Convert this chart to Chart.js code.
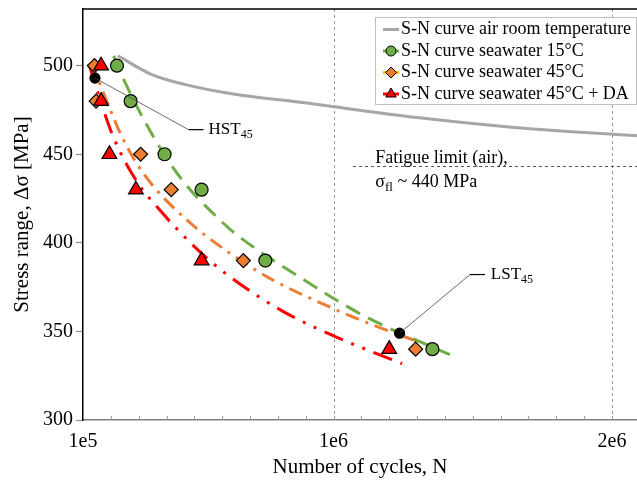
<!DOCTYPE html>
<html><head><meta charset="utf-8">
<script src="https://cdn.jsdelivr.net/npm/chart.js@4/dist/chart.umd.min.js"></script>
<style>html,body{margin:0;padding:0;background:#fff}</style>
</head><body>
<canvas id="c" width="637" height="482"></canvas>
<script>
// ---- tick labels ----
const xTickValues = [1e5, 1e6, 2e6];
const xTickLabels = ['1e5', '1e6', '2e6'];
const yTickValues = [300, 350, 400, 450, 500];

// ---- S-N curve in air (room temperature) ----
const airN = [2.25e5, 3.43e5, 4.61e5, 6.40e5, 8.81e5, 1.30e6, 1.66e6, 2.09e6];
const airS = [505.6, 495.3, 489.6, 484.0, 479.3, 470.7, 465.0, 460.5];

// ---- experimental points ----
const sw15N = [2.22e5, 2.71e5, 3.93e5, 5.26e5, 7.55e5, 1.355e6];
const sw15S = [500, 480, 450, 430, 390, 340];
const sw45N = [1.41e5, 1.47e5, 3.07e5, 4.17e5, 6.76e5, 1.295e6];
const sw45S = [500, 480, 450, 430, 390, 340];
const sw45daN = [1.65e5, 1.65e5, 1.95e5, 2.90e5, 5.26e5, 1.20e6];
const sw45daS = [500, 480, 450, 430, 390, 340];

// ---- fitted curves ----
const fit15N = [2.10e5, 2.43e5, 3.57e5, 4.58e5, 5.65e5, 6.47e5, 8.81e5, 1.095e6, 1.203e6, 1.418e6];
const fit15S = [505.5, 493.2, 458.8, 435.1, 417.0, 405.2, 380.4, 360.0, 351.6, 336.9];
const fit45N = [1.31e5, 1.89e5, 2.43e5, 3.25e5, 4.76e5, 6.30e5, 7.66e5, 9.99e5, 1.157e6, 1.304e6];
const fit45S = [501.7, 478.6, 458.8, 437.5, 412.5, 393.9, 380.4, 362.9, 352.7, 344.2];
const fit45daN = [1.21e5, 1.42e5, 2.07e5, 2.96e5, 3.68e5, 5.04e5, 6.22e5, 8.20e5, 1.006e6, 1.246e6];
const fit45daS = [501.1, 490.4, 460.5, 434.0, 419.9, 397.3, 381.5, 361.2, 347.1, 331.8];

// ---- highlighted specimens ----
const specLabels = ['HST', 'LST'];
const specN = [1.43e5, 1.237e6];
const specS = [493, 349];

// ---- fatigue limit ----
const fatigueLimitS = 443.5;
const fatigueLineStartN = 1.07e6;

const legendLabels = ['S-N curve air room temperature', 'S-N curve seawater 15°C', 'S-N curve seawater 45°C', 'S-N curve seawater 45°C + DA'];

const FONT = "'Liberation Serif','Times New Roman',serif";
const GREEN = '#70AD47', ORANGE = '#ED7D31', RED = '#FF0000', GRAY = '#A6A6A6';

const pts = (xs, ys) => xs.map((x, i) => ({x, y: ys[i]}));

const curve = (xs, ys, color, dash, w) => ({
  data: pts(xs, ys), borderColor: color, borderWidth: w, borderDash: dash,
  pointRadius: 0, pointHoverRadius: 0, fill: false, cubicInterpolationMode: 'monotone', borderCapStyle: 'butt'
});
const marks = (xs, ys, color, style, r) => ({
  data: pts(xs, ys), showLine: false, pointStyle: style, pointRadius: r, pointHoverRadius: r,
  pointBackgroundColor: color, pointBorderColor: '#000', pointBorderWidth: 1.2, borderColor: color, backgroundColor: color
});

const decor = {
  id: 'decor',
  beforeDatasetsDraw(chart) {
    const {ctx, chartArea: a, scales: {x, y}} = chart;
    ctx.save();
    ctx.strokeStyle = '#9a9a9a'; ctx.lineWidth = 1; ctx.setLineDash([3, 3]);
    [1e6, 2e6].forEach(v => {
      const px = Math.round(x.getPixelForValue(v)) + 0.5;
      ctx.beginPath(); ctx.moveTo(px, a.top); ctx.lineTo(px, a.bottom); ctx.stroke();
    });
    ctx.strokeStyle = '#555';
    const fy = Math.round(y.getPixelForValue(fatigueLimitS)) + 0.5;
    ctx.beginPath(); ctx.moveTo(x.getPixelForValue(fatigueLineStartN), fy); ctx.lineTo(a.right, fy); ctx.stroke();
    ctx.setLineDash([]);
    ctx.strokeStyle = '#9a9a9a';
    for (let v = 2e5; v <= 2.05e6; v += 1e5) {
      const px = Math.round(x.getPixelForValue(v)) + 0.5;
      ctx.beginPath(); ctx.moveTo(px, a.bottom); ctx.lineTo(px, a.bottom - 4); ctx.stroke();
    }
    ctx.strokeStyle = '#000'; ctx.lineWidth = 1.5;
    ctx.beginPath(); ctx.moveTo(a.left, a.top); ctx.lineTo(a.right, a.top); ctx.stroke();
    ctx.restore();
  },
  afterDatasetsDraw(chart) {
    const {ctx, scales: {x, y}} = chart;
    ctx.save();
    ctx.fillStyle = '#000';
    ctx.textBaseline = 'middle';
    const sub = (main, subTxt, px, py, size) => {
      ctx.font = size + 'px ' + FONT;
      ctx.fillText(main, px, py);
      const w = ctx.measureText(main).width;
      ctx.font = Math.round(size * 0.7) + 'px ' + FONT;
      ctx.fillText(subTxt, px + w, py + 5);
      return px + w + ctx.measureText(subTxt).width;
    };
    const leaders = [
      {n: specN[0], s: specS[0], kn: 4.79e5, ks: 463.9, en: 5.33e5, tn: 5.51e5, label: specLabels[0]},
      {n: specN[1], s: specS[1], kn: 1.49e6, ks: 382.1, en: 1.544e6, tn: 1.565e6, label: specLabels[1]}
    ];
    leaders.forEach(l => {
      const ky = y.getPixelForValue(l.ks);
      ctx.lineWidth = 0.8; ctx.strokeStyle = '#444';
      ctx.beginPath();
      ctx.moveTo(x.getPixelForValue(l.n), y.getPixelForValue(l.s));
      ctx.lineTo(x.getPixelForValue(l.kn), ky);
      ctx.stroke();
      ctx.lineWidth = 1.2; ctx.strokeStyle = '#000';
      ctx.beginPath(); ctx.moveTo(x.getPixelForValue(l.kn), ky); ctx.lineTo(x.getPixelForValue(l.en), ky); ctx.stroke();
      ctx.textAlign = 'left';
      sub(l.label, '45', x.getPixelForValue(l.tn), ky, 17);
    });
    const tx = x.getPixelForValue(1.15e6);
    ctx.font = '18px ' + FONT;
    ctx.fillText('Fatigue limit (air),', tx, y.getPixelForValue(447.5));
    const ty = y.getPixelForValue(434);
    const e = sub('σ', 'fl', tx, ty, 18);
    ctx.font = '18px ' + FONT;
    ctx.fillText(' ~ 440 MPa', e, ty);

    const L = 375.5, T = 17.5, R = 636.5, B = 104.5;
    ctx.fillStyle = '#fff'; ctx.fillRect(L, T, R - L, B - T);
    ctx.strokeStyle = '#BFBFBF'; ctx.lineWidth = 1; ctx.strokeRect(L, T, R - L, B - T);
    const rows = [29.5, 51, 72.5, 94];
    const lineCols = [GRAY, GREEN, '#FFC000', RED];
    const mk = [null, {s: 'circle', r: 5, c: GREEN}, {s: 'rectRot', r: 5.5, c: ORANGE}, {s: 'triangle', r: 6, c: RED}];
    rows.forEach((ry, i) => {
      ctx.strokeStyle = lineCols[i]; ctx.lineWidth = 3;
      ctx.beginPath(); ctx.moveTo(383, ry); ctx.lineTo(399, ry); ctx.stroke();
      if (mk[i]) {
        ctx.fillStyle = mk[i].c; ctx.strokeStyle = '#000'; ctx.lineWidth = 1;
        Chart.helpers.drawPoint(ctx, {pointStyle: mk[i].s, radius: mk[i].r, rotation: 0, borderWidth: 1}, 391, ry);
      }
      ctx.fillStyle = '#000'; ctx.font = '18px ' + FONT; ctx.textAlign = 'left';
      ctx.fillText(legendLabels[i], 401, ry);
    });
    ctx.restore();
  }
};

new Chart(document.getElementById('c'), {
  type: 'line',
  data: {
    datasets: [
      // first dataset is drawn on top
      marks(specN, specS, '#000', 'circle', 5),
      marks(sw45daN, sw45daS, RED, 'triangle', 8.5),
      marks(sw45N, sw45S, ORANGE, 'rectRot', 7),
      marks(sw15N, sw15S, GREEN, 'circle', 6.5),
      curve(fit15N, fit15S, GREEN, [16, 9], 3),
      curve(fit45N, fit45S, ORANGE, [14, 7, 3, 7], 3),
      curve(fit45daN, fit45daS, RED, [20, 9, 3, 9, 3, 9], 3),
      curve(airN, airS, GRAY, [], 3)
    ]
  },
  options: {
    responsive: false, animation: false,
    layout: {autoPadding: false, padding: {top: 9, right: 0, left: 0, bottom: 0}},
    plugins: {legend: {display: false}, tooltip: {enabled: false}},
    scales: {
      x: {
        type: 'linear', min: 1e5, max: 2.09e6,
        afterBuildTicks: s => { s.ticks = xTickValues.map(v => ({value: v})); },
        afterFit: s => { s.height = 62; s.paddingLeft = 0; s.paddingRight = 0; },
        grid: {display: false, drawTicks: false},
        border: {display: true, color: '#808080', width: 1.5},
        ticks: {
          padding: 10, color: '#000', font: {family: FONT, size: 20}, maxRotation: 0,
          callback: v => { const i = xTickValues.indexOf(v); return i >= 0 ? xTickLabels[i] : ''; }
        },
        title: {display: true, text: 'Number of cycles, N', color: '#000', font: {family: FONT, size: 21}, padding: {top: 0, bottom: 2}}
      },
      y: {
        min: 300, max: 532,
        afterBuildTicks: s => { s.ticks = yTickValues.map(v => ({value: v})); },
        afterFit: s => { s.width = 83; s.paddingTop = 0; s.paddingBottom = 0; },
        grid: {drawOnChartArea: false, drawTicks: true, tickLength: 7, tickColor: '#8c8c8c', tickWidth: 1.2},
        border: {display: true, color: '#000', width: 1.5},
        ticks: {padding: 3, color: '#000', font: {family: FONT, size: 20}},
        title: {display: true, text: 'Stress range, Δσ [MPa]', color: '#000', font: {family: FONT, size: 21}, padding: {top: 10, bottom: 0}}
      }
    }
  },
  plugins: [decor]
});
</script>
</body></html>
